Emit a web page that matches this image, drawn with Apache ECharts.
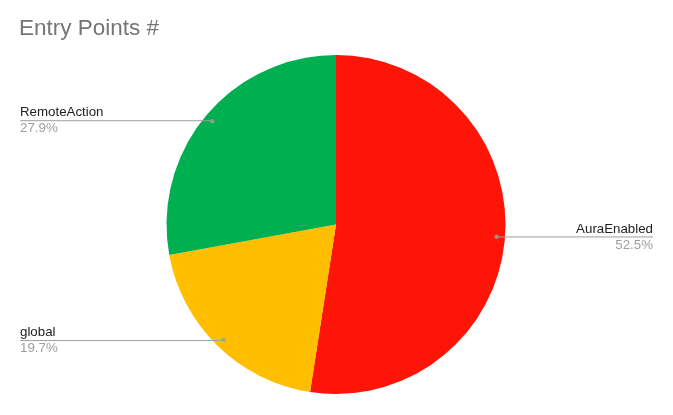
<!DOCTYPE html>
<html>
<head>
<meta charset="utf-8">
<script src="https://cdn.jsdelivr.net/npm/echarts@6/dist/echarts.min.js"></script>
<style>html,body{margin:0;padding:0;background:#fff;}#c{width:673px;height:415px;}</style>
</head>
<body>
<div id="c"></div>
<script>
const titleText = 'Entry Points #';
const categories = ['AuraEnabled', 'global', 'RemoteAction'];
const values = [52.5, 19.7, 27.9];
const colors = ['#ff1507', '#ffbf00', '#00b050'];

const total = values.reduce((a, b) => a + b, 0);
const pieData = categories.map((n, i) => ({ name: n, value: values[i], itemStyle: { color: colors[i] } }));
const labelData = categories.map((n, i) => ({ name: n, value: values[i] }));
let acc = 0;
const dotData = values.map(v => { const mid = acc + v / 2; acc += v; return [0.95, mid]; });

const chart = echarts.init(document.getElementById('c'));
const FONT = 'Arial, "Liberation Sans", sans-serif';
chart.setOption({
  animation: false,
  title: {
    text: titleText, left: 14, top: 12,
    textStyle: { fontSize: 22.5, fontWeight: 'normal', color: '#757575', fontFamily: FONT }
  },
  polar: { center: [336, 224.5], radius: 169.5 },
  angleAxis: { type: 'value', min: 0, max: total, startAngle: 90, clockwise: true,
    axisLine: { show: false }, axisTick: { show: false }, axisLabel: { show: false }, splitLine: { show: false } },
  radiusAxis: { type: 'value', min: 0, max: 1,
    axisLine: { show: false }, axisTick: { show: false }, axisLabel: { show: false }, splitLine: { show: false } },
  series: [
    {
      type: 'pie', center: [336, 224.5], radius: 169.5, startAngle: 90, clockwise: true,
      silent: true, label: { show: false }, labelLine: { show: false }, z: 2,
      data: pieData
    },
    {
      type: 'pie', center: [336, 224.5], radius: 161, startAngle: 90, clockwise: true,
      silent: true, avoidLabelOverlap: false, z: 4,
      itemStyle: { color: 'rgba(0,0,0,0)' },
      label: {
        show: true, position: 'outer', alignTo: 'edge', edgeDistance: 20,
        formatter: p => '{n|' + p.name + '}\n{p|' + p.value + '%}',
        rich: {
          n: { fontSize: 13.3, color: '#222222', lineHeight: 16, fontFamily: FONT },
          p: { fontSize: 13.3, color: '#9e9e9e', lineHeight: 16, fontFamily: FONT }
        }
      },
      labelLine: { show: true, length: 1, length2: 10, smooth: false,
        lineStyle: { color: '#9e9e9e', width: 1 } },
      labelLayout: function (params) {
        const isLeft = params.labelRect.x < chart.getWidth() / 2;
        const points = params.labelLinePoints;
        points[2][0] = isLeft ? params.labelRect.x : params.labelRect.x + params.labelRect.width;
        return { labelLinePoints: points };
      },
      data: labelData
    },
    {
      type: 'scatter', coordinateSystem: 'polar', symbol: 'circle', symbolSize: 4.5,
      silent: true, itemStyle: { color: '#9e9e9e' }, z: 5,
      data: dotData
    }
  ]
});
</script>
</body>
</html>
